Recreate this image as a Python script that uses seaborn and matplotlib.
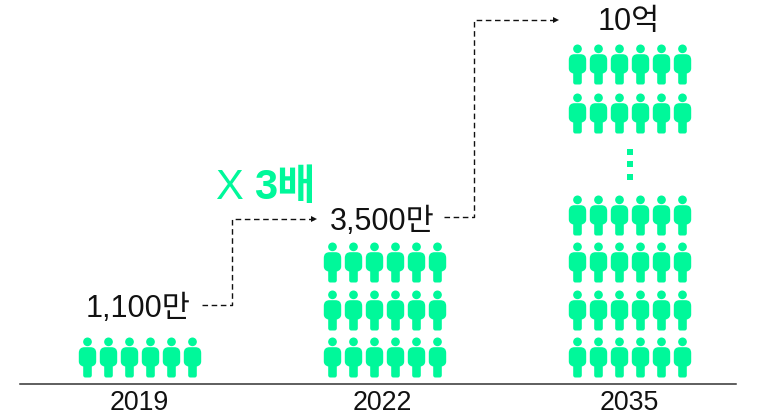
import matplotlib
matplotlib.use("Agg")
import matplotlib.pyplot as plt
from matplotlib.path import Path
from matplotlib.transforms import Affine2D
import numpy as np
import pandas as pd
import seaborn as sns

# ---- data ----
years = ["2019", "2022", "2035"]
value_labels = ["1,100만", "3,500만", "10억"]
rows_2019 = [0]
rows_2022 = [0, 1, 2]
rows_2035 = [0, 1, 2, 3, 5.17, 6.2]
ellipsis_rows = [3.80, 4.08, 4.34]
people_per_row = 6
multiplier_x = "X"
multiplier_n = "3배"

GREEN = "#00F89A"
W, H = 768, 415

sns.set_style("white")
plt.rcParams["font.family"] = ["Liberation Sans", "Noto Sans CJK KR", "DejaVu Sans"]

fig = plt.figure(figsize=(W / 100, H / 100), dpi=100)
ax = fig.add_axes([20 / W, 1 - 384 / H, 716 / W, 384 / H])
ax.patch.set_alpha(0)


def person_path():
    head = Path.circle((0, 15.65), 4.35)
    verts = [
        (-3.0, 10.3), (-8.7, 10.3), (-8.7, 4.5),
        (-8.7, -4.0), (-8.7, -7.8), (-4.3, -9.0),
        (-4.3, -17.8), (-4.3, -20), (-2.2, -20),
        (2.2, -20), (4.3, -20), (4.3, -17.8),
        (4.3, -9.0),
        (8.7, -7.8), (8.7, -4.0),
        (8.7, 4.5),
        (8.7, 10.3), (3.0, 10.3),
        (-3.0, 10.3),
    ]
    C3, L = Path.CURVE3, Path.LINETO
    codes = [Path.MOVETO, C3, C3, L, C3, C3, L, C3, C3, L, C3, C3, L, C3, C3, L, C3, C3, L]
    return Path(np.vstack([head.vertices, verts]), np.concatenate([head.codes, codes]))


col_step = 20.85 / 245
col_offsets = (np.arange(people_per_row) - (people_per_row - 1) / 2) * col_step
records = []
for i, rows in enumerate([rows_2019, rows_2022, rows_2035]):
    for r in rows:
        for off in col_offsets:
            records.append({"x": i + off, "row": r})
people = pd.DataFrame(records)

side_pt = 40 * 72 / 100
sns.scatterplot(data=people, x="x", y="row", ax=ax, marker=person_path(),
                s=side_pt ** 2, color=GREEN, linewidth=0, clip_on=False, legend=False)

dots = pd.DataFrame({"x": [2] * len(ellipsis_rows), "row": ellipsis_rows})
sns.scatterplot(data=dots, x="x", y="row", ax=ax, marker="s", s=16,
                color=GREEN, linewidth=0, legend=False)

ax.set_xlim((20 - 139.5) / 245, (736 - 139.5) / 245)
ax.set_ylim(-0.578, 7.557)
ax.set_xticks([0, 0.992, 2])
ax.set_xticklabels(years, fontsize=19.3, color="#111111")
ax.set_yticks([])
ax.set_xlabel("")
ax.set_ylabel("")
ax.tick_params(axis="x", length=0, pad=4.5)
for s in ("top", "left", "right"):
    ax.spines[s].set_visible(False)
ax.spines["bottom"].set_color("#333333")
ax.spines["bottom"].set_linewidth(1.1)

# pixel coordinates for annotation layout
px = Affine2D().scale(1 / W, -1 / H).translate(0, 1) + fig.transFigure

label_pos = [(138.5, 305), (382, 218), (629, 19)]
for (x, y), t in zip(label_pos, value_labels):
    fig.text(x, y, t, transform=px, ha="center", va="center_baseline",
             fontsize=22, color="#111111")

fig.text(215, 183, multiplier_x, transform=px, ha="left", va="center_baseline",
         fontsize=30, color=GREEN)
fig.text(254, 183, multiplier_n, transform=px, ha="left", va="center_baseline",
         fontsize=30, color=GREEN, fontweight="bold")

connectors = [
    ([202, 232, 232, 314], [305, 305, 218.5, 218.5]),
    ([444, 474, 474, 556], [216.5, 216.5, 20, 20]),
]
for xs, ys in connectors:
    fig.add_artist(plt.Line2D(xs, ys, transform=px, color="#111111", lw=1.0,
                              dashes=(4, 2.6), solid_joinstyle="miter"))
    fig.add_artist(plt.Line2D([xs[-1]], [ys[-1]], transform=px, color="#111111",
                              marker=">", markersize=4, markeredgewidth=0, linestyle="none"))

fig.savefig("out.png", dpi=100)
